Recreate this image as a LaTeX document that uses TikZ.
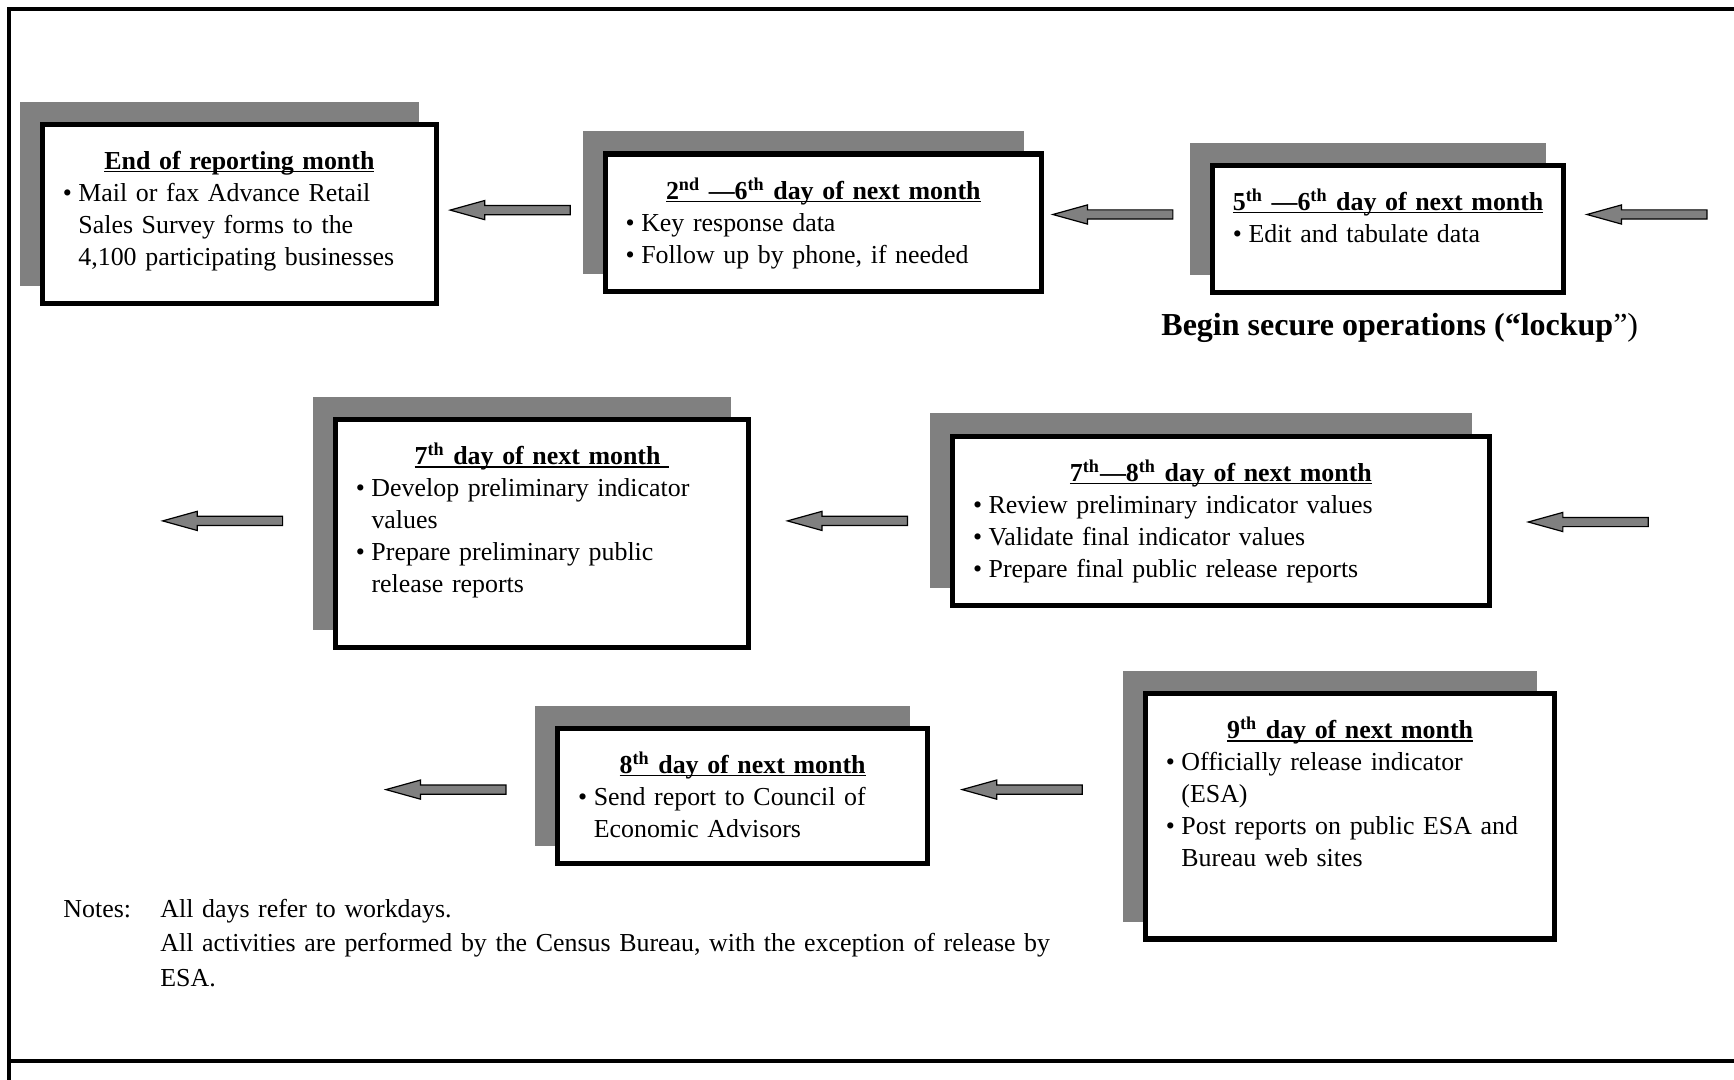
\documentclass[tikz,border=0pt]{standalone}
\usepackage{fontspec}
\setmainfont{Liberation Serif}
\usetikzlibrary{shapes.arrows,shadows}
\definecolor{shadegray}{HTML}{808080}

% underlined bold heading of a stage box, and one bullet of it
\newcommand{\steptitle}[1]{{\centering\bfseries\setbox0\hbox{#1}\rlap{\rule[-1.5pt]{\wd0}{0.65pt}}\box0\par}}
\newcommand{\stepitem}[1]{\par\noindent\hangindent=7.8pt\hangafter=1\makebox[7.8pt][l]{\textbullet}#1\par}

\begin{document}
\begin{tikzpicture}[x=0.5pt, y=-0.5pt,
      stepbox/.style={draw, line width=2.6pt, fill=white, anchor=north west,
        inner xsep=10.2pt, inner ysep=0pt, text height=22.5pt,
        font=\fontsize{12.95pt}{16pt}\selectfont,
        drop shadow={shadow xshift=-10pt, shadow yshift=10pt, fill=shadegray,
          draw=shadegray, opacity=1}},
      backarrow/.style={single arrow, draw, line width=0.6pt, fill=shadegray,
        minimum height=60pt, minimum width=9pt, single arrow head extend=2.5pt,
        single arrow tip angle=31, single arrow head indent=0pt,
        shape border rotate=180, inner xsep=0pt, inner ysep=2pt, anchor=tip}]

   \useasboundingbox (0,0) rectangle (1734,1080);
   \draw[line width=2pt] (1734,9) -- (9,9) -- (9,1080);
   \draw[line width=2pt] (9,1061) -- (1734,1061);

   % first row
   \node[stepbox, text width=176.6pt, text depth=67.25pt] (endmonth) at (39.8,121.6) {\raggedright
      \steptitle{End of reporting month}
      \stepitem{Mail or fax Advance Retail\newline Sales Survey forms to the\newline 4,100 participating businesses}};
   \node[stepbox, text width=197.6pt, text depth=46.25pt] (keying) at (602.7,151.5) {\raggedright
      \steptitle{2\textsuperscript{nd} ---6\textsuperscript{th} day of next month}
      \stepitem{Key response data}
      \stepitem{Follow up by phone, if needed}};
   \node[stepbox, text width=155pt, text depth=41.25pt] (editing) at (1209.9,162.6) {\raggedright
      \steptitle{5\textsuperscript{th} ---6\textsuperscript{th} day of next month}
      \stepitem{Edit and tabulate data}};
   \node[anchor=base west, inner sep=0pt, font=\fontsize{16pt}{19pt}\selectfont] (lockup) at (1161,336)
      {\textbf{Begin secure operations (``lockup}'')};

   \node[backarrow] (toend) at (447.9,210.1) {};
   \node[backarrow] (tokey) at (1050.6,214.5) {};
   \node[backarrow] (toedit) at (1584.7,214.5) {};

   % second row
   \node[stepbox, text width=186pt, text depth=91.6pt] (prelim) at (332.9,416.9) {\raggedright
      \steptitle{7\textsuperscript{th} day of next month\ }
      \stepitem{Develop preliminary indicator\newline values}
      \stepitem{Prepare preliminary public\newline release reports}};
   \node[stepbox, text width=247.9pt, text depth=62.25pt] (review) at (950,433.5) {\raggedright
      \steptitle{7\textsuperscript{th}---8\textsuperscript{th} day of next month}
      \stepitem{Review preliminary indicator values}
      \stepitem{Validate final indicator values}
      \stepitem{Prepare final public release reports}};

   \node[backarrow] (fromprelim) at (160.4,520.9) {};
   \node[backarrow] (toprelim) at (785.2,520.9) {};
   \node[backarrow] (toreview) at (1526,522) {};

   % third row
   \node[stepbox, text width=164.4pt, text depth=45.1pt] (council) at (555.2,725.5) {\raggedright
      \steptitle{8\textsuperscript{th} day of next month}
      \stepitem{Send report to Council of\newline Economic Advisors}};
   \node[stepbox, text width=184.3pt, text depth=100.15pt] (release) at (1142.8,691) {\raggedright
      \steptitle{9\textsuperscript{th} day of next month}
      \stepitem{Officially release indicator\newline (ESA)}
      \stepitem{Post reports on public ESA and\newline Bureau web sites}};

   \node[backarrow] (fromcouncil) at (383.7,789.6) {};
   \node[backarrow] (tocouncil) at (959.9,789.6) {};

   % notes
   \node[anchor=base west, inner sep=0pt, font=\fontsize{12.95pt}{17.4pt}\selectfont] (notelabel) at (63,917) {Notes:};
   \node[anchor=base west, inner sep=0pt, text width=490pt, font=\fontsize{12.95pt}{17.4pt}\selectfont] (notetext) at (160,917)
      {\raggedright All days refer to workdays.\newline
       All activities are performed by the Census Bureau, with the exception of release by\newline
       ESA.};
\end{tikzpicture}
\end{document}
